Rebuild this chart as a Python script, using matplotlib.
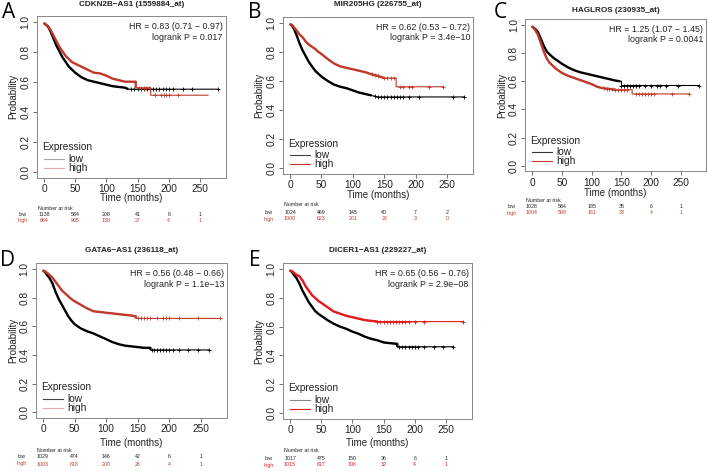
import numpy as np
import matplotlib
matplotlib.use("Agg")
import matplotlib.pyplot as plt
from matplotlib.transforms import blended_transform_factory

plt.rcParams['font.family'] = ['Liberation Sans', 'DejaVu Sans']

W, H = 708, 471

risk_times = [0, 50, 100, 150, 200, 250]

# ---- A: CDKN2B-AS1 ----
a_title = "CDKN2B\u2212AS1 (1559884_at)"
a_hr = "HR = 0.83 (0.71 \u2212 0.97)"
a_p = "logrank P = 0.017"
a_low_t = [0, 3, 6, 10, 15, 20, 25, 30, 35, 40, 45, 50, 60, 70, 80, 90, 100, 110, 120, 130, 135, 279]
a_low_s = [0.99, 0.98, 0.97, 0.94, 0.89, 0.84, 0.80, 0.76, 0.73, 0.70, 0.68, 0.66, 0.63, 0.61, 0.60, 0.59,
           0.58, 0.57, 0.565, 0.56, 0.55, 0.55]
a_low_cens = [140, 145, 150, 155, 160, 165, 170, 175, 180, 185, 190, 195, 200, 207, 222, 237, 279]
a_high_t = [0, 3, 6, 10, 15, 20, 25, 30, 35, 40, 45, 50, 60, 70, 80, 90, 100, 110, 120, 130, 140, 147, 147,
            171, 171, 263]
a_high_s = [0.99, 0.98, 0.97, 0.95, 0.91, 0.87, 0.83, 0.80, 0.77, 0.75, 0.73, 0.72, 0.70, 0.68, 0.66, 0.655,
            0.64, 0.62, 0.61, 0.60, 0.60, 0.60, 0.56, 0.56, 0.51, 0.51]
a_high_cens = [152, 156, 160, 164, 168, 178, 188, 192, 196, 200, 215]
a_risk_low = [1138, 584, 208, 41, 6, 1]
a_risk_high = [864, 905, 138, 27, 4, 1]

# ---- B: MIR205HG ----
b_title = "MIR205HG (226755_at)"
b_hr = "HR = 0.62 (0.53 \u2212 0.72)"
b_p = "logrank P = 3.4e\u221210"
b_low_t = [0, 3, 6, 10, 15, 20, 25, 30, 35, 40, 45, 50, 60, 70, 80, 90, 100, 110, 120, 130, 140, 277]
b_low_s = [0.99, 0.98, 0.96, 0.92, 0.86, 0.81, 0.77, 0.73, 0.70, 0.67, 0.65, 0.63, 0.60, 0.575, 0.56, 0.55,
           0.535, 0.52, 0.51, 0.50, 0.49, 0.49]
b_low_cens = [135, 140, 145, 150, 155, 160, 165, 170, 175, 180, 190, 205, 260, 277]
b_high_t = [0, 3, 6, 10, 15, 20, 25, 30, 35, 40, 45, 50, 60, 70, 80, 90, 100, 110, 120, 130, 140, 150, 169,
            169, 244]
b_high_s = [0.99, 0.985, 0.97, 0.95, 0.92, 0.90, 0.87, 0.85, 0.835, 0.82, 0.80, 0.785, 0.75, 0.72, 0.70, 0.69,
            0.68, 0.67, 0.66, 0.645, 0.635, 0.62, 0.62, 0.56, 0.56]
b_high_cens = [130, 135, 140, 150, 155, 160, 165, 175, 180, 190, 195, 222, 244]
b_risk_low = [1024, 469, 145, 40, 7, 2]
b_risk_high = [1008, 623, 201, 28, 3, 0]

# ---- C: HAGLROS ----
c_title = "HAGLROS (230935_at)"
c_hr = "HR = 1.25 (1.07 \u2212 1.45)"
c_p = "logrank P = 0.0041"
c_low_t = [0, 3, 6, 10, 15, 20, 25, 30, 35, 40, 45, 50, 60, 70, 80, 90, 100, 110, 120, 130, 140, 148, 150,
           150, 280]
c_low_s = [0.99, 0.98, 0.97, 0.95, 0.90, 0.85, 0.81, 0.79, 0.77, 0.755, 0.74, 0.725, 0.70, 0.68, 0.665, 0.655,
           0.645, 0.635, 0.625, 0.615, 0.605, 0.60, 0.60, 0.57, 0.57]
c_low_cens = [150, 155, 160, 165, 170, 175, 180, 190, 200, 210, 215, 225, 245, 280]
c_high_t = [0, 3, 6, 10, 15, 20, 25, 30, 35, 40, 45, 50, 60, 70, 80, 90, 100, 110, 120, 130, 140, 168, 168, 263]
c_high_s = [0.99, 0.98, 0.96, 0.93, 0.87, 0.81, 0.76, 0.73, 0.71, 0.69, 0.675, 0.66, 0.64, 0.625, 0.61, 0.595,
            0.58, 0.56, 0.55, 0.545, 0.54, 0.54, 0.51, 0.51]
c_high_cens = [120, 125, 130, 135, 140, 145, 150, 155, 160, 175, 180, 185, 190, 195, 200, 205, 235, 263]
c_risk_low = [1028, 584, 185, 35, 6, 1]
c_risk_high = [1004, 508, 161, 33, 4, 1]

# ---- D: GATA6-AS1 ----
d_title = "GATA6\u2212AS1 (236118_at)"
d_hr = "HR = 0.56 (0.48 \u2212 0.66)"
d_p = "logrank P = 1.1e\u221213"
d_low_t = [0, 3, 6, 10, 15, 20, 25, 30, 35, 40, 45, 50, 60, 70, 80, 90, 100, 110, 120, 130, 140, 150, 160,
           170, 170, 262]
d_low_s = [0.99, 0.98, 0.96, 0.94, 0.90, 0.84, 0.79, 0.75, 0.71, 0.67, 0.64, 0.615, 0.585, 0.565, 0.55, 0.53,
           0.51, 0.49, 0.475, 0.465, 0.46, 0.455, 0.45, 0.45, 0.435, 0.435]
d_low_cens = [172, 176, 180, 185, 190, 195, 200, 205, 215, 230, 245, 262]
d_high_t = [0, 3, 6, 10, 15, 20, 25, 30, 35, 40, 45, 50, 60, 70, 80, 90, 100, 110, 120, 130, 140, 147, 147, 280]
d_high_s = [0.99, 0.985, 0.975, 0.96, 0.94, 0.91, 0.88, 0.85, 0.83, 0.81, 0.79, 0.775, 0.75, 0.725, 0.705, 0.70,
            0.695, 0.69, 0.685, 0.68, 0.675, 0.67, 0.655, 0.655]
d_high_cens = [150, 155, 160, 165, 170, 180, 190, 195, 200, 215, 245, 280]
d_risk_low = [1029, 474, 146, 42, 6, 1]
d_risk_high = [1003, 618, 200, 26, 4, 1]

# ---- E: DICER1-AS1 ----
e_title = "DICER1\u2212AS1 (229227_at)"
e_hr = "HR = 0.65 (0.56 \u2212 0.76)"
e_p = "logrank P = 2.9e\u221208"
e_low_t = [0, 3, 6, 10, 15, 20, 25, 30, 35, 40, 45, 50, 60, 70, 80, 90, 100, 110, 120, 130, 140, 150, 160,
           172, 172, 262]
e_low_s = [0.99, 0.98, 0.96, 0.94, 0.90, 0.85, 0.81, 0.77, 0.74, 0.71, 0.69, 0.675, 0.645, 0.62, 0.60, 0.585,
           0.565, 0.55, 0.53, 0.515, 0.505, 0.49, 0.485, 0.48, 0.46, 0.46]
e_low_cens = [175, 180, 185, 190, 195, 200, 205, 215, 230, 245, 262]
e_high_t = [0, 3, 6, 10, 15, 20, 25, 30, 35, 40, 45, 50, 60, 70, 80, 90, 100, 110, 120, 130, 140, 278]
e_high_s = [0.99, 0.985, 0.975, 0.96, 0.95, 0.92, 0.88, 0.85, 0.82, 0.80, 0.78, 0.765, 0.735, 0.705, 0.69,
            0.675, 0.665, 0.655, 0.645, 0.64, 0.635, 0.635]
e_high_cens = [140, 145, 150, 155, 160, 165, 170, 175, 180, 185, 190, 200, 215, 278]
e_risk_low = [1017, 475, 150, 36, 6, 1]
e_risk_high = [1015, 617, 196, 32, 4, 1]

RED = "#c0392b"
RED_E = "#e41a1c"

# layout in pixels: letter pos, axes box (l, t, r, b), title y, xlabel y, ylabel x,
# risk header / low / high rows y, legend colours, red, end of the dense (thick) part
panels = [
    dict(letter="A", lx=9, ly=12, box=(37, 15.7, 225.7, 177.7), ty=5, xly=198, ylx=13,
         ry=(208, 214, 220.5), leg=("#a8a8a8", "#e6a9a9"), red=RED, dense=(135, 147),
         title=a_title, hr=a_hr, p=a_p,
         low=(a_low_t, a_low_s, a_low_cens), high=(a_high_t, a_high_s, a_high_cens),
         risk=(a_risk_low, a_risk_high)),
    dict(letter="B", lx=255, ly=12, box=(283, 16.9, 472.9, 174.1), ty=5, xly=195, ylx=259,
         ry=(205, 212, 219), leg=("#444444", RED), red=RED, dense=(135, 150),
         title=b_title, hr=b_hr, p=b_p,
         low=(b_low_t, b_low_s, b_low_cens), high=(b_high_t, b_high_s, b_high_cens),
         risk=(b_risk_low, b_risk_high)),
    dict(letter="C", lx=500, ly=12, box=(525.3, 19.4, 705.6, 171.3), ty=10, xly=193, ylx=502,
         ry=(201, 207, 213), leg=("#333333", RED), red=RED, dense=(148, 140),
         title=c_title, hr=c_hr, p=c_p,
         low=(c_low_t, c_low_s, c_low_cens), high=(c_high_t, c_high_s, c_high_cens),
         risk=(c_risk_low, c_risk_high)),
    dict(letter="D", lx=8, ly=261, box=(35.9, 263.3, 227.0, 418.0), ty=250, xly=443, ylx=13,
         ry=(451, 457, 464), leg=("#444444", "#e6a9a9"), red=RED, dense=(170, 147),
         title=d_title, hr=d_hr, p=d_p,
         low=(d_low_t, d_low_s, d_low_cens), high=(d_high_t, d_high_s, d_high_cens),
         risk=(d_risk_low, d_risk_high)),
    dict(letter="E", lx=255, ly=261, box=(283.0, 263.2, 471.7, 418.8), ty=250, xly=443, ylx=259,
         ry=(451, 458, 465), leg=("#888888", RED_E), red=RED_E, dense=(172, 140),
         title=e_title, hr=e_hr, p=e_p,
         low=(e_low_t, e_low_s, e_low_cens), high=(e_high_t, e_high_s, e_high_cens),
         risk=(e_risk_low, e_risk_high)),
]


def fx(px):
    return px / W


def fy(py):
    return 1 - py / H


def surv_at(times, t_knots, s_knots):
    # value of the drawn curve at the censor times
    return np.interp(times, t_knots, s_knots)


fig = plt.figure(figsize=(W / 100, H / 100), dpi=100)

for pn in panels:
    l, t, r, b = pn["box"]
    ax = fig.add_axes([fx(l), fy(b), (r - l) / W, (b - t) / H])
    ax.set_xlim(-11.2, 291.2)
    ax.set_ylim(-0.04, 1.04)

    for key, col in (("low", "black"), ("high", pn["red"])):
        tk, sk, cens = pn[key]
        tk = np.array(tk, float)
        sk = np.array(sk, float)
        ax.plot(tk, sk, color=col, lw=0.8)
        end = pn["dense"][0] if key == "low" else pn["dense"][1]
        m = tk <= end
        ax.plot(tk[m], sk[m], color=col, lw=1.7, solid_capstyle="butt")
        ax.plot(cens, surv_at(cens, tk, sk), ls="none", marker="+", ms=3.5, mew=0.6, color=col)

    for sp in ax.spines.values():
        sp.set_color("#888888")
        sp.set_linewidth(0.7)
    ax.set_xticks([0, 50, 100, 150, 200, 250])
    ax.set_yticks([0.0, 0.2, 0.4, 0.6, 0.8, 1.0])
    ax.set_yticklabels(["0.0", "0.2", "0.4", "0.6", "0.8", "1.0"], rotation=90, va="center")
    ax.tick_params(length=3, width=0.6, color="#555555", labelsize=7.3, labelcolor="#222222", pad=1.5)

    # HR and p-value
    ax.text(0.985, 0.935, pn["hr"], transform=ax.transAxes, ha="right", va="center", fontsize=6.4,
            color="#222222")
    ax.text(0.985, 0.866, pn["p"], transform=ax.transAxes, ha="right", va="center", fontsize=6.4,
            color="#222222")

    # legend
    fig.text(fx(l + 5), fy(b - 30.5), "Expression", fontsize=7.3, va="center", color="#222222")
    for yy, lab, col in ((b - 19, "low", pn["leg"][0]), (b - 10, "high", pn["leg"][1])):
        fig.add_artist(plt.Line2D([fx(l + 7), fx(l + 27)], [fy(yy), fy(yy)], color=col, lw=0.8))
        fig.text(fx(l + 31), fy(yy), lab, fontsize=7.3, va="center", color="#222222")

    # titles and labels
    fig.text(fx((l + r) / 2), fy(pn["ty"]), pn["title"], ha="center", va="center", fontsize=5.9,
             fontweight="bold", color="#222222")
    fig.text(fx(pn["lx"]), fy(pn["ly"]), pn["letter"], ha="center", va="center", fontsize=15,
             family=["Open Sans", "DejaVu Sans"])
    fig.text(fx((l + r) / 2), fy(pn["xly"]), "Time (months)", ha="center", va="center", fontsize=7,
             color="#222222")
    fig.text(fx(pn["ylx"]), fy((t + b) / 2), "Probability", ha="center", va="center", rotation=90,
             fontsize=7, color="#222222")

    # number at risk table
    trans = blended_transform_factory(ax.transData, fig.transFigure)
    hy, lowy, highy = pn["ry"]
    fig.text(fx(l + 1), fy(hy), "Number at risk", fontsize=3.8, va="center", color="#222222")
    fig.text(fx(l - 14), fy(lowy), "low", fontsize=3.8, ha="center", va="center", color="#222222")
    fig.text(fx(l - 14), fy(highy), "high", fontsize=3.8, ha="center", va="center", color=pn["red"])
    for tt, nl, nh in zip(risk_times, pn["risk"][0], pn["risk"][1]):
        ax.text(tt, fy(lowy), str(nl), transform=trans, fontsize=3.8, ha="center", va="center",
                color="#222222", clip_on=False)
        ax.text(tt, fy(highy), str(nh), transform=trans, fontsize=3.8, ha="center", va="center",
                color=pn["red"], clip_on=False)

fig.savefig("out.png", dpi=100)
